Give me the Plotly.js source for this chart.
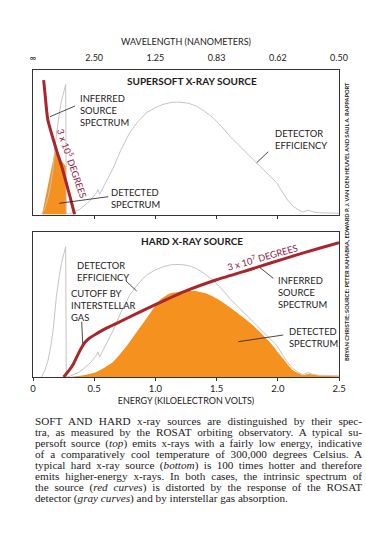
<!DOCTYPE html>
<html>
<head>
<meta charset="utf-8">
<script src="https://cdn.plot.ly/plotly-3.0.1.min.js"></script>
<style>
  html, body { margin:0; padding:0; background:#fff; }
  #wrap { position:relative; width:366px; height:552px; overflow:hidden; }
  #chart { position:absolute; left:0; top:0; width:366px; height:552px; }
  #caption { position:absolute; left:35px; top:416px; width:327px;
    font-family:"Liberation Serif","DejaVu Serif",serif; font-size:11.2px; line-height:11px; color:#1d1a1b; }
  #caption div { width:327px; }
</style>
</head>
<body>
<div id="wrap">
  <div id="chart"></div>
  <div id="caption"></div>
</div>
<script>
// ---------------- DATA ----------------
// Energy axis (keV) and wavelength tick labels
var energyTicks = [0, 0.5, 1.0, 1.5, 2.0, 2.5];
var energyTickText = ['0', '0.5', '1.0', '1.5', '2.0', '2.5'];
var wavelengthTickText = ['\u221e', '2.50', '1.25', '0.83', '0.62', '0.50'];

// Detector efficiency (gray curve, same in both panels), relative units
var effE = [0.069, 0.095, 0.123, 0.145, 0.164, 0.191, 0.215, 0.232, 0.255, 0.267, 0.272, 0.30, 0.38, 0.46, 0.518, 0.531, 0.545, 0.6, 0.654, 0.72, 0.79, 0.86, 0.926, 1.0, 1.062, 1.13, 1.199, 1.27, 1.335, 1.40, 1.47, 1.54, 1.607, 1.675, 1.743, 1.81, 1.879, 1.94, 1.99, 2.042, 2.08, 2.124, 2.17, 2.206, 2.247, 2.29, 2.34, 2.42, 2.5];
var effV = [0.0, 0.04, 0.116, 0.21, 0.32, 0.554, 0.70, 0.785, 0.86, 0.90, 0.0, 0.005, 0.035, 0.09, 0.15, 0.173, 0.14, 0.23, 0.32, 0.45, 0.566, 0.645, 0.704, 0.74, 0.762, 0.776, 0.778, 0.77, 0.75, 0.715, 0.67, 0.61, 0.543, 0.485, 0.427, 0.37, 0.312, 0.26, 0.22, 0.15, 0.10, 0.058, 0.03, 0.017, 0.03, 0.018, 0.012, 0.01, 0.008];

// Supersoft source: inferred spectrum (red) and detected spectrum (orange)
var softSrcE = [0.087, 0.10, 0.12, 0.15, 0.19, 0.23, 0.27, 0.30, 0.34];
var softSrcV = [0.93, 0.82, 0.66, 0.565, 0.45, 0.345, 0.225, 0.13, 0.0];
var softDetE = [0.074, 0.093, 0.12, 0.147, 0.167, 0.178, 0.27, 0.27];
var softDetV = [0.0, 0.078, 0.19, 0.31, 0.377, 0.435, 0.33, 0.0];

// Hard source: inferred spectrum (red) and detected spectrum (orange)
var hardSrcE = [0.25, 0.29, 0.33, 0.37, 0.395, 0.42, 0.46, 0.52, 0.6, 0.7, 0.85, 1.0, 1.25, 1.5, 1.8, 2.07, 2.34, 2.5];
var hardSrcV = [0.0, 0.04, 0.09, 0.16, 0.20, 0.235, 0.268, 0.30, 0.338, 0.378, 0.44, 0.50, 0.595, 0.672, 0.75, 0.822, 0.89, 0.928];
var hardDetE = [0.30, 0.40, 0.518, 0.654, 0.79, 0.926, 1.035, 1.117, 1.2, 1.253, 1.335, 1.417, 1.525, 1.66, 1.797, 1.934, 2.042, 2.124, 2.206, 2.25, 2.35, 2.5];
var hardDetV = [0.0, 0.01, 0.035, 0.104, 0.242, 0.404, 0.531, 0.577, 0.59, 0.593, 0.593, 0.577, 0.531, 0.45, 0.358, 0.242, 0.127, 0.046, 0.012, 0.02, 0.01, 0.005];

// ---------------- STYLE ----------------
var RED = '#a8262c', GRAY = '#c4c4c4', ORANGE = '#f5911f', INK = '#1d1a1b', LBLRED = '#8a2046';
var FONT = 'Lato, "Open Sans", sans-serif';
var W = 366, H = 552, ML = 33, MR = 27, MT = 70, MB = 175;
var PW = W - ML - MR, PH = H - MT - MB;
function px(x) { return (x - ML) / PW; }
function py(y) { return (H - MB - y) / PH; }

var traces = [
  // top panel
  {x: softDetE, y: softDetV, xaxis: 'x2', yaxis: 'y2', mode: 'lines', fill: 'toself', fillcolor: ORANGE, line: {width: 0, color: ORANGE}, hoverinfo: 'skip'},
  {x: effE, y: effV, xaxis: 'x2', yaxis: 'y2', mode: 'lines', line: {color: GRAY, width: 1}, hoverinfo: 'skip'},
  {x: softSrcE, y: softSrcV, xaxis: 'x2', yaxis: 'y2', mode: 'lines', line: {color: RED, width: 3, shape: 'spline', smoothing: 0.6}, hoverinfo: 'skip'},
  {x: [], y: [], xaxis: 'x3', yaxis: 'y2', mode: 'markers', hoverinfo: 'skip'},
  // bottom panel
  {x: hardDetE, y: hardDetV, xaxis: 'x', yaxis: 'y', mode: 'lines', fill: 'tozeroy', fillcolor: ORANGE, line: {width: 0, color: ORANGE, shape: 'spline', smoothing: 0.5}, hoverinfo: 'skip'},
  {x: effE, y: effV, xaxis: 'x', yaxis: 'y', mode: 'lines', line: {color: GRAY, width: 1}, hoverinfo: 'skip'},
  {x: hardSrcE, y: hardSrcV, xaxis: 'x', yaxis: 'y', mode: 'lines', line: {color: RED, width: 3, shape: 'spline', smoothing: 0.6}, hoverinfo: 'skip'}
];

var ann = [];
var shapes = [];
// one annotation per label; (x, yc) = left edge and vertical centre in pixels
function lbl(text, x, yc, opts) {
  opts = opts || {};
  ann.push({xref: 'paper', yref: 'paper', x: px(x), y: py(yc), text: text, showarrow: false,
    xanchor: opts.xanchor || 'left', yanchor: 'middle', align: opts.align || 'left',
    font: {family: FONT, size: opts.size || 9.4, color: opts.color || INK, weight: opts.weight || 'normal'},
    textangle: opts.angle || 0});
}
function lead(x0, y0, x1, y1) {
  shapes.push({type: 'line', xref: 'paper', yref: 'paper', x0: px(x0), y0: py(y0), x1: px(x1), y1: py(y1),
    line: {color: INK, width: 0.8}});
}

// Top panel labels
lbl('SUPERSOFT X-RAY SOURCE', 192, 80.7, {xanchor: 'center', size: 10, weight: 'bold'});
lbl('INFERRED<br>SOURCE<br>SPECTRUM', 78, 110.5);
lead(50, 116.7, 75, 106);
lbl('DETECTOR<br>EFFICIENCY', 272.5, 139);
lead(268.3, 151.7, 256.7, 162.7);
lbl('DETECTED<br>SPECTRUM', 109, 198);
lead(108.3, 196.7, 59.3, 203.3);
lbl('3 x 10<sup>5</sup> DEGREES', 72.5, 162.5, {xanchor: 'center', angle: 71, color: LBLRED, size: 9.3});

// Bottom panel labels
lbl('HARD X-RAY SOURCE', 191.7, 241, {xanchor: 'center', size: 10, weight: 'bold'});
lbl('DETECTOR<br>EFFICIENCY', 74.5, 271.2);
lead(126, 281, 136.7, 291);
lbl('CUTOFF BY<br>INTERSTELLAR<br>GAS', 69, 305.5);
lead(81.7, 321.7, 82.7, 343.3);
lbl('3 x 10<sup>7</sup> DEGREES', 262.3, 256.5, {xanchor: 'center', angle: -16, color: LBLRED, size: 9.3});
lbl('INFERRED<br>SOURCE<br>SPECTRUM', 276, 292.5);
lead(260, 267.7, 273.3, 278.3);
lbl('DETECTED<br>SPECTRUM', 286.5, 337);
lead(283.3, 335, 238.3, 341.7);

// Credit line
lbl('BRYAN CHRISTIE; SOURCE: PETER KAHABKA, EDWARD P. J. VAN DEN HEUVEL AND SAUL A. RAPPAPORT', 346, 222,
  {xanchor: 'center', angle: -90, size: 5.7, weight: 'bold'});

var axBase = {range: [0, 2.5], showgrid: false, zeroline: false, showline: true, mirror: true,
  linecolor: '#333', linewidth: 1, fixedrange: true};
var layout = {
  width: W, height: H, margin: {l: ML, r: MR, t: MT, b: MB, pad: 0},
  paper_bgcolor: 'rgba(0,0,0,0)', plot_bgcolor: 'rgba(0,0,0,0)', showlegend: false,
  font: {family: FONT, color: INK},
  xaxis: Object.assign({}, axBase, {anchor: 'y', tickvals: energyTicks, ticktext: energyTickText,
    ticks: 'outside', ticklen: 3, tickcolor: '#333', tickfont: {family: FONT, size: 9.5, color: INK},
    title: {text: 'ENERGY (KILOELECTRON VOLTS)', font: {family: FONT, size: 9, color: INK}, standoff: 4}}),
  yaxis: {domain: [0, py(232.3)], range: [0, 1], showgrid: false, zeroline: false, showline: true, mirror: true,
    linecolor: '#333', linewidth: 1, showticklabels: false, ticks: '', fixedrange: true},
  xaxis2: Object.assign({}, axBase, {anchor: 'y2', tickvals: [0.5, 1.0, 1.5, 2.0], ticks: 'outside', ticklen: 3,
    tickcolor: '#333', showticklabels: false}),
  yaxis2: {domain: [py(214.5), 1], range: [0, 1], showgrid: false, zeroline: false, showline: true, mirror: true,
    linecolor: '#333', linewidth: 1, showticklabels: false, ticks: '', fixedrange: true},
  xaxis3: {overlaying: 'x2', anchor: 'y2', side: 'top', range: [0, 2.5], showgrid: false, zeroline: false,
    showline: false, tickvals: energyTicks, ticktext: wavelengthTickText, ticks: 'outside', ticklen: 4,
    tickcolor: 'rgba(0,0,0,0)', tickfont: {family: FONT, size: 9, color: INK}, fixedrange: true,
    title: {text: 'WAVELENGTH (NANOMETERS)', font: {family: FONT, size: 9, color: INK}, standoff: 5}},
  annotations: ann, shapes: shapes
};
Plotly.newPlot('chart', traces, layout, {displayModeBar: false, staticPlot: true});

// ---------------- CAPTION ----------------
var captionLines = [
  'SOFT AND HARD x-ray sources are distinguished by their spec-',
  'tra, as measured by the ROSAT orbiting observatory. A typical su-',
  'persoft source (<i>top</i>) emits x-rays with a fairly low energy, indicative',
  'of a comparatively cool temperature of 300,000 degrees Celsius. A',
  'typical hard x-ray source (<i>bottom</i>) is 100 times hotter and therefore',
  'emits higher-energy x-rays. In both cases, the intrinsic spectrum of',
  'the source (<i>red curves</i>) is distorted by the response of the ROSAT',
  'detector (<i>gray curves</i>) and by interstellar gas absorption.'
];
var cap = document.getElementById('caption');
captionLines.forEach(function (t, i) {
  var d = document.createElement('div');
  var s = document.createElement('span');
  s.innerHTML = t;
  d.style.whiteSpace = 'nowrap';
  d.appendChild(s);
  cap.appendChild(d);
  var w = s.getBoundingClientRect().width;
  var n = s.textContent.length;
  if (w > 325) d.style.letterSpacing = ((325 - w) / n) + 'px';
  if (i < captionLines.length - 1) {
    d.style.whiteSpace = 'normal';
    d.style.textAlign = 'justify';
    d.style.textAlignLast = 'justify';
  }
});
</script>
</body>
</html>
